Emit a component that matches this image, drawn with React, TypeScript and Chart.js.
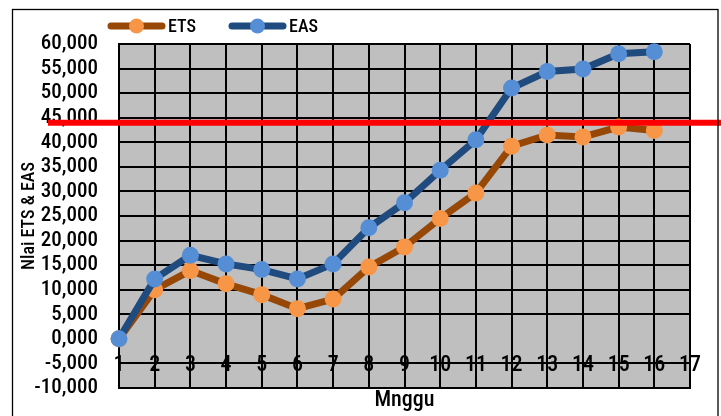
import React, { useEffect, useRef } from "react";
import { Chart, registerables } from "chart.js";

Chart.register(...registerables);

// Week numbers on the category axis
const weeks = ["1", "2", "3", "4", "5", "6", "7", "8", "9", "10", "11", "12", "13", "14", "15", "16", "17"];

// Score series per week
const etsValues = [0, 10000, 13900, 11200, 9000, 6150, 8100, 14600, 18700, 24500, 29700, 39200, 41500, 41100, 43100, 42400];
const easValues = [0, 12200, 17000, 15250, 14100, 12200, 15250, 22600, 27700, 34300, 40500, 51050, 54400, 54900, 58000, 58400];

// Target threshold drawn as a red horizontal rule
const targetValue = 44000;

const FAMILY = "Roboto, 'Open Sans', sans-serif";
const STRETCH = "500 condensed";

const formatTick = (v: number) => {
  const sign = v < 0 ? "-" : "";
  return sign + Math.floor(Math.abs(v) / 1000) + ",000";
};

const plotBackground = {
  id: "plotBackground",
  beforeDraw(chart: any) {
    const { ctx, chartArea } = chart;
    ctx.save();
    ctx.fillStyle = "#ffffff";
    ctx.fillRect(0, 0, chart.width, chart.height);
    ctx.fillStyle = "#BFBFBF";
    ctx.fillRect(chartArea.left, chartArea.top, chartArea.right - chartArea.left, chartArea.bottom - chartArea.top);
    ctx.restore();
  },
};

const outerFrame = {
  id: "outerFrame",
  afterDraw(chart: any) {
    const { ctx } = chart;
    ctx.save();
    ctx.strokeStyle = "#000";
    ctx.lineWidth = 1.3;
    ctx.strokeRect(12.5, 9.5, 705.5, chart.height + 20);
    ctx.restore();
  },
};

const targetLine = {
  id: "targetLine",
  afterDraw(chart: any) {
    const { ctx } = chart;
    const y = chart.scales.y.getPixelForValue(targetValue);
    ctx.save();
    ctx.strokeStyle = "#FF0000";
    ctx.lineWidth = 6;
    ctx.beginPath();
    ctx.moveTo(48, y);
    ctx.lineTo(chart.width, y);
    ctx.stroke();
    ctx.restore();
  },
};

// Legend entries: a line sample with a marker, followed by the series name
const lineLegend = {
  id: "lineLegend",
  afterDraw(chart: any) {
    const { ctx } = chart;
    const starts = [108, 229];
    const y = 26;
    const len = 57;
    ctx.save();
    chart.data.datasets.forEach((ds: any, i: number) => {
      const x0 = starts[i];
      ctx.strokeStyle = ds.borderColor;
      ctx.lineWidth = 7;
      ctx.lineCap = "round";
      ctx.beginPath();
      ctx.moveTo(x0 + 3, y);
      ctx.lineTo(x0 + len - 3, y);
      ctx.stroke();
      ctx.fillStyle = ds.pointBackgroundColor;
      ctx.beginPath();
      ctx.arc(x0 + len / 2, y, 7.5, 0, Math.PI * 2);
      ctx.fill();
      ctx.fillStyle = "#000";
      ctx.font = `${STRETCH} 18px ${FAMILY}`;
      ctx.textBaseline = "middle";
      ctx.textAlign = "left";
      ctx.fillText(ds.label, x0 + len + 3, y + 1);
    });
    ctx.restore();
  },
};

export default function App() {
  const canvasRef = useRef<HTMLCanvasElement | null>(null);

  useEffect(() => {
    if (!canvasRef.current) return;
    const chart = new Chart(canvasRef.current, {
      type: "line",
      data: {
        labels: weeks,
        datasets: [
          {
            label: "ETS",
            data: etsValues,
            borderColor: "#974706",
            backgroundColor: "#F79646",
            pointBackgroundColor: "#F79646",
            pointBorderWidth: 0,
            pointRadius: 8.5,
            borderWidth: 7,
            tension: 0,
            clip: false,
            order: 1,
          },
          {
            label: "EAS",
            data: easValues,
            borderColor: "#1F4B7F",
            backgroundColor: "#558ED5",
            pointBackgroundColor: "#558ED5",
            pointBorderWidth: 0,
            pointRadius: 8.5,
            borderWidth: 7,
            tension: 0,
            clip: false,
            order: 0,
          },
        ],
      },
      options: {
        animation: false,
        responsive: false,
        layout: { padding: { top: 44, right: 31, left: 0, bottom: 0 } },
        plugins: {
          legend: { display: false },
          tooltip: { enabled: false },
        },
        scales: {
          x: {
            type: "category",
            offset: false,
            grid: { color: "#000", lineWidth: 2, drawTicks: false },
            border: { color: "#000", width: 2 },
            ticks: {
              color: "#000",
              font: { family: FAMILY, weight: STRETCH, size: 22 },
              padding: 9,
              mirror: true,
              maxRotation: 0,
              autoSkip: false,
            },
            title: {
              display: true,
              text: "Mnggu",
              color: "#000",
              font: { family: FAMILY, weight: STRETCH, size: 22 },
              padding: { top: 0, bottom: 2 },
            },
            afterFit: (s: any) => {
              s.height = 28;
            },
          },
          y: {
            min: -10000,
            max: 60000,
            grid: {
              color: (c: any) => (c.tick && c.tick.value === 0 ? "rgba(0,0,0,0)" : "#000"),
              lineWidth: 2,
              drawTicks: false,
            },
            border: { color: "#000", width: 2 },
            ticks: {
              stepSize: 5000,
              autoSkip: false,
              color: "#000",
              font: { family: FAMILY, weight: STRETCH, size: 21 },
              padding: 21,
              callback: (v: any) => formatTick(Number(v)),
            },
            title: {
              display: true,
              text: "Nlai ETS & EAS",
              color: "#000",
              font: { family: FAMILY, weight: STRETCH, size: 18 },
              padding: { top: 19, bottom: 0 },
            },
            afterFit: (s: any) => {
              s.width = 119;
              s.paddingTop = 0;
              s.paddingBottom = 0;
            },
          },
        },
      },
      plugins: [plotBackground, targetLine, outerFrame, lineLegend],
    });
    return () => chart.destroy();
  }, []);

  return (
    <div style={{ position: "fixed", left: 0, top: 0, width: 721, height: 416, background: "#fff" }}>
      <canvas ref={canvasRef} width={721} height={416} style={{ display: "block" }} />
    </div>
  );
}
